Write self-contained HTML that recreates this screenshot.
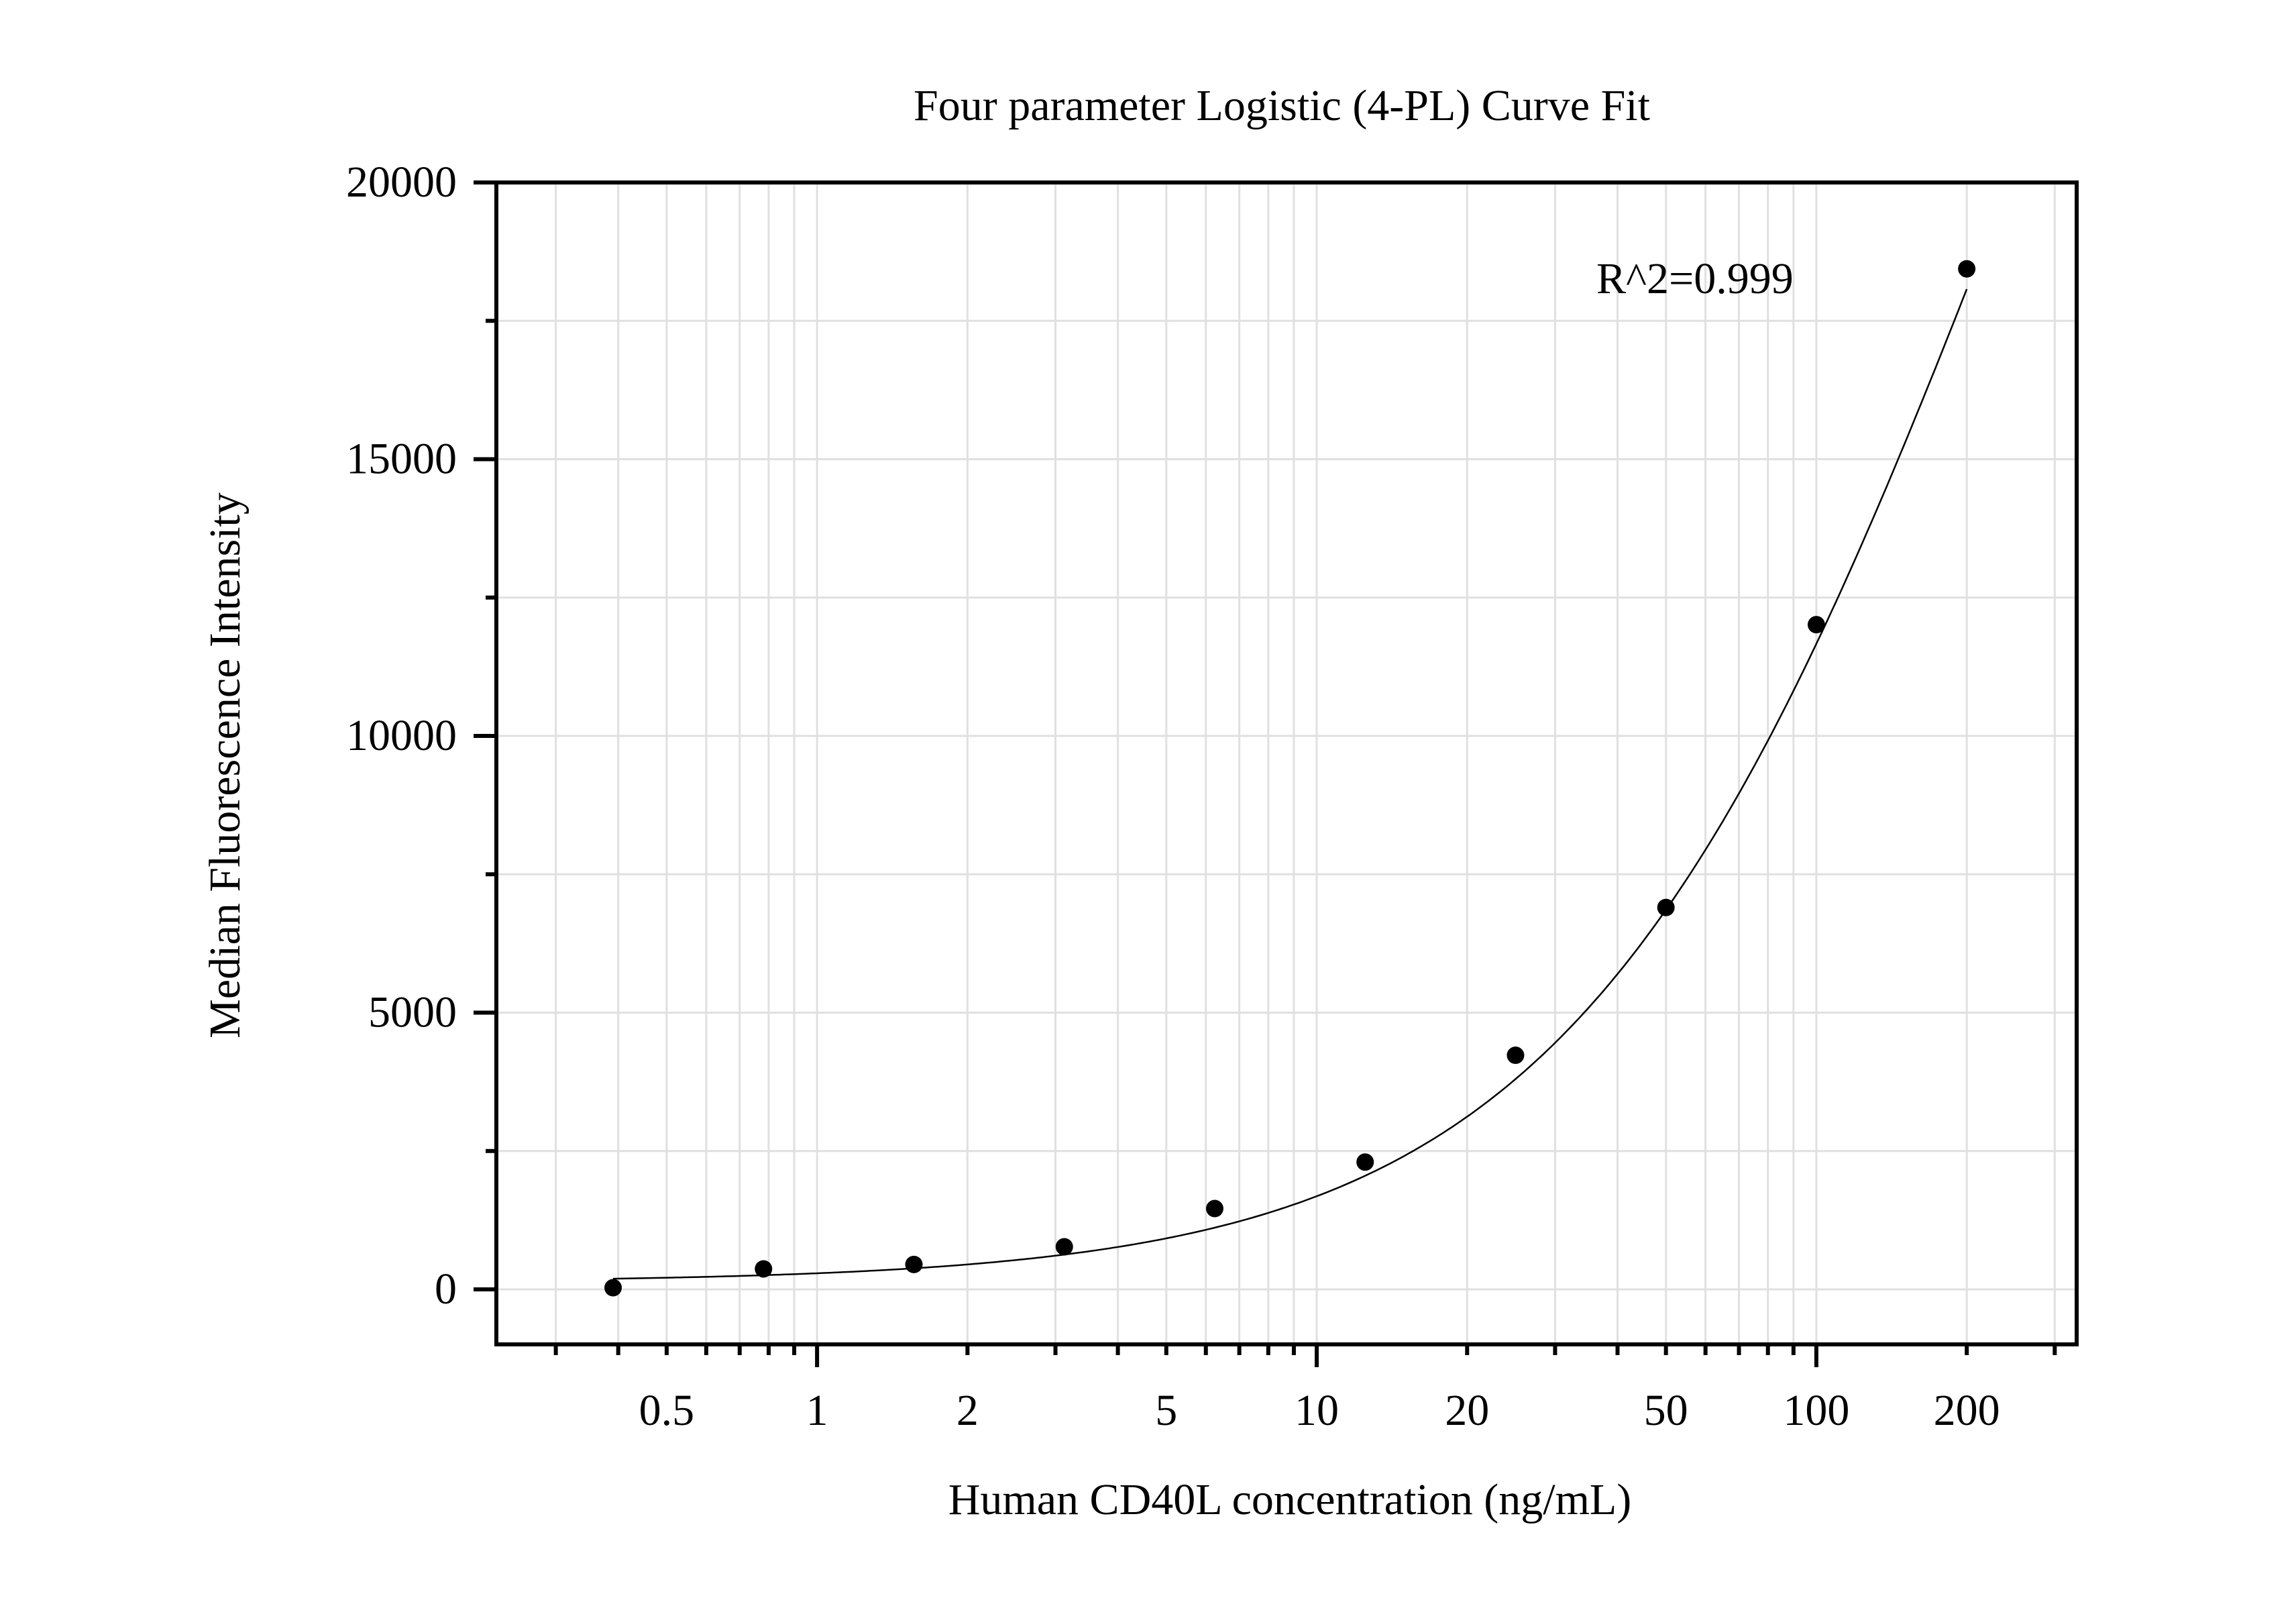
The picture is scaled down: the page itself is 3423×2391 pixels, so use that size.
<!DOCTYPE html>
<html><head><meta charset="utf-8"><style>
html,body{margin:0;padding:0;background:#fff;}
svg{display:block;font-family:"Liberation Serif",serif;}
</style></head><body>
<svg id="chart" width="3423" height="2391" viewBox="0 0 3423 2391" xmlns="http://www.w3.org/2000/svg">
<rect width="3423" height="2391" fill="#fff"/>
<g id="grid"></g>
<g id="axes"></g>
<g id="series"></g>
<text x="1911" y="179" font-size="66" text-anchor="middle">Four parameter Logistic (4-PL) Curve Fit</text>
<text x="1923" y="2257" font-size="66" text-anchor="middle">Human CD40L concentration (ng/mL)</text>
<text transform="translate(357,1141) rotate(-90)" font-size="66" text-anchor="middle">Median Fluorescence Intensity</text>
<text x="2380" y="437" font-size="66">R^2=0.999</text>
</svg>
<script>
const concentrations = [0.390625, 0.78125, 1.5625, 3.125, 6.25, 12.5, 25, 50, 100, 200];
const intensities = [30, 370, 450, 770, 1460, 2300, 4230, 6900, 12010, 18440];
const xTickLabels = ["0.5", "1", "2", "5", "10", "20", "50", "100", "200"];
const xTickValues = [0.5, 1, 2, 5, 10, 20, 50, 100, 200];
const yTickValues = [0, 5000, 10000, 15000, 20000];
const fitParams = [130, 1.0, 250, 40500]; // A, B, C, D

const L = 740, R = 3096, T = 272, B = 2004;
const xMin = 0.2281, xMax = 331.9, yMin = -994, yMax = 20000;
const NS = "http://www.w3.org/2000/svg";
function sx(v){ return L + (Math.log10(v) - Math.log10(xMin)) / (Math.log10(xMax) - Math.log10(xMin)) * (R - L); }
function sy(v){ return B - (v - yMin) / (yMax - yMin) * (B - T); }
function mk(tag, attrs, parent){ const e = document.createElementNS(NS, tag); for (const k in attrs) e.setAttribute(k, attrs[k]); parent.appendChild(e); return e; }
const grid = document.getElementById('grid'), axes = document.getElementById('axes'), series = document.getElementById('series');

const xMinor = [];
for (let d = -1; d <= 2; d++) for (let m = 1; m <= 9; m++) { const v = m * Math.pow(10, d); if (v > xMin && v < xMax) xMinor.push(v); }
xMinor.forEach(v => {
  const g = mk('line', {x1: sx(v), x2: sx(v), y1: T, y2: B, stroke: '#e0e0e0', 'stroke-width': 3}, grid);
  
  
  const major = (v === 1 || v === 10 || v === 100);
  const t = mk('line', {x1: sx(v), x2: sx(v), y1: B, y2: B + (major ? 34 : 16), stroke: '#000', 'stroke-width': 6}, axes);
  
  
});
for (let v = 0; v <= 20000; v += 2500) {
  const g = mk('line', {x1: L, x2: R, y1: sy(v), y2: sy(v), stroke: '#e0e0e0', 'stroke-width': 3}, grid);
  
  
  const major = v % 5000 === 0;
  const t = mk('line', {x1: L - (major ? 34 : 16), x2: L, y1: sy(v), y2: sy(v), stroke: '#000', 'stroke-width': 6}, axes);
  
  
}
const frame = mk('rect', {x: L, y: T, width: R - L, height: B - T, fill: 'none', stroke: '#000', 'stroke-width': 6}, axes);



xTickValues.forEach((v, i) => {
  const t = mk('text', {x: sx(v), y: 2124, 'font-size': 66, 'text-anchor': 'middle'}, axes);
  t.textContent = xTickLabels[i];
  
  
});
yTickValues.forEach(v => {
  const t = mk('text', {x: 681, y: sy(v) + 21, 'font-size': 66, 'text-anchor': 'end'}, axes);
  t.textContent = String(v);
  
  
});

const [A, Bh, C, D] = fitParams;
function f(x){ return D + (A - D) / (1 + Math.pow(x / C, Bh)); }
let d = '';
const x0 = concentrations[0], x1 = concentrations[concentrations.length - 1];
for (let i = 0; i <= 300; i++) {
  const x = Math.pow(10, Math.log10(x0) + (Math.log10(x1) - Math.log10(x0)) * i / 300);
  d += (i ? 'L' : 'M') + sx(x).toFixed(1) + ',' + sy(f(x)).toFixed(1);
}
const curve = mk('path', {d: d, fill: 'none', stroke: '#000', 'stroke-width': 2.5}, series);



concentrations.forEach((c, i) => {
  const p = mk('circle', {cx: sx(c), cy: sy(intensities[i]), r: 13, fill: '#000'}, series);
  
  
});
</script>
</body></html>
